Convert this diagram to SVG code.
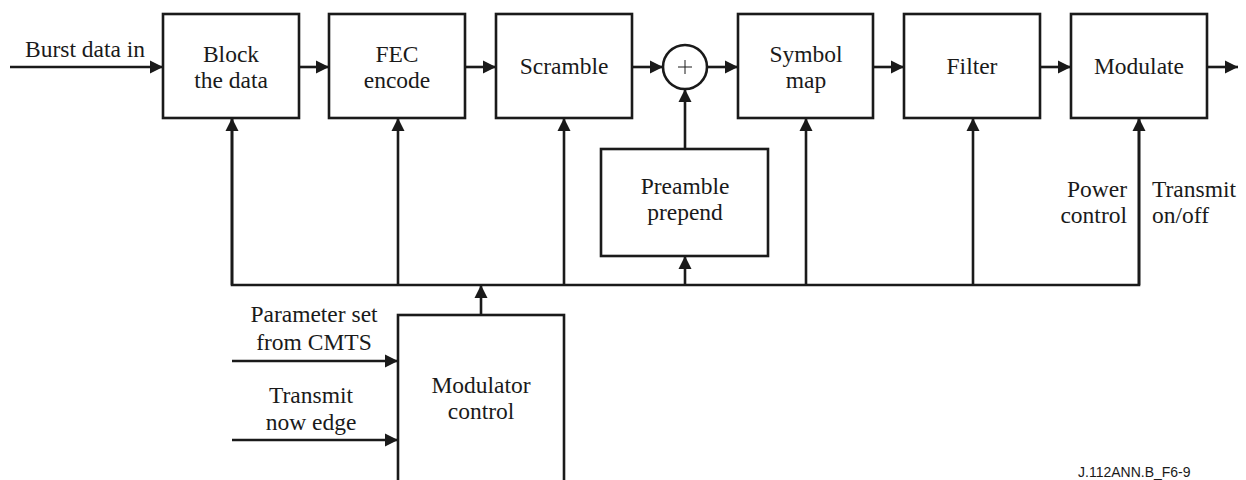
<svg xmlns="http://www.w3.org/2000/svg" width="1246" height="480" viewBox="0 0 1246 480">
<style>
.box{fill:#fff;stroke:#1a1a1a;stroke-width:2.6}
.ln{fill:none;stroke:#1a1a1a;stroke-width:2.6}
.t{font-size:23.5px;fill:#1a1a1a}
.m{text-anchor:middle}
.r{text-anchor:end}
.f{font-size:14px;fill:#1a1a1a}
</style>
<defs>
<marker id="ah" markerUnits="userSpaceOnUse" markerWidth="14" markerHeight="14" viewBox="0 0 14 14" refX="13" refY="7" orient="auto">
<path d="M0,0.5 L13,7 L0,13.5 Z" fill="#1a1a1a"/>
</marker>
</defs>
<g id="connectors">
<line class="ln" x1="10" y1="67" x2="163" y2="67" marker-end="url(#ah)"/>
<line class="ln" x1="299" y1="67" x2="329" y2="67" marker-end="url(#ah)"/>
<line class="ln" x1="465" y1="67" x2="496" y2="67" marker-end="url(#ah)"/>
<line class="ln" x1="632" y1="67" x2="663" y2="67" marker-end="url(#ah)"/>
<line class="ln" x1="707" y1="67" x2="738" y2="67" marker-end="url(#ah)"/>
<line class="ln" x1="873" y1="67" x2="904" y2="67" marker-end="url(#ah)"/>
<line class="ln" x1="1040" y1="67" x2="1071" y2="67" marker-end="url(#ah)"/>
<line class="ln" x1="1207" y1="67" x2="1238" y2="67" marker-end="url(#ah)"/>
<line class="ln" x1="685" y1="149" x2="685" y2="89" marker-end="url(#ah)"/>
<polyline class="ln" points="232,118 232,285 1139,285 1139,118"/>
<line class="ln" x1="232" y1="285" x2="232" y2="118" marker-end="url(#ah)"/>
<line class="ln" x1="398" y1="285" x2="398" y2="118" marker-end="url(#ah)"/>
<line class="ln" x1="564" y1="285" x2="564" y2="118" marker-end="url(#ah)"/>
<line class="ln" x1="806" y1="285" x2="806" y2="118" marker-end="url(#ah)"/>
<line class="ln" x1="973" y1="285" x2="973" y2="118" marker-end="url(#ah)"/>
<line class="ln" x1="1139" y1="285" x2="1139" y2="118" marker-end="url(#ah)"/>
<line class="ln" x1="685" y1="285" x2="685" y2="256" marker-end="url(#ah)"/>
<line class="ln" x1="481" y1="315" x2="481" y2="285" marker-end="url(#ah)"/>
<line class="ln" x1="232" y1="361" x2="398" y2="361" marker-end="url(#ah)"/>
<line class="ln" x1="232" y1="440" x2="398" y2="440" marker-end="url(#ah)"/>
</g>
<g font-family="'Liberation Serif', 'Times New Roman', serif">
<g id="block">
<rect class="box" x="163" y="14" width="136" height="104"/>
<text class="t m" x="231" y="62">Block</text>
<text class="t m" x="231" y="88">the data</text>
</g>
<g id="fec">
<rect class="box" x="329" y="14" width="136" height="104"/>
<text class="t m" x="397" y="62">FEC</text>
<text class="t m" x="397" y="88">encode</text>
</g>
<g id="scramble">
<rect class="box" x="496" y="14" width="136" height="104"/>
<text class="t m" x="564" y="74">Scramble</text>
</g>
<g id="sum">
<circle class="box" cx="685" cy="67" r="22"/>
<line x1="678" y1="67" x2="692" y2="67" stroke="#1a1a1a" stroke-width="1"/>
<line x1="685" y1="60" x2="685" y2="74" stroke="#1a1a1a" stroke-width="1"/>
</g>
<g id="symbolmap">
<rect class="box" x="738" y="14" width="135" height="104"/>
<text class="t m" x="806" y="62">Symbol</text>
<text class="t m" x="806" y="88">map</text>
</g>
<g id="filter">
<rect class="box" x="904" y="14" width="136" height="104"/>
<text class="t m" x="972" y="74">Filter</text>
</g>
<g id="modulate">
<rect class="box" x="1071" y="14" width="136" height="104"/>
<text class="t m" x="1139" y="74">Modulate</text>
</g>
<g id="preamble">
<rect class="box" x="601" y="149" width="167" height="107"/>
<text class="t m" x="685" y="194">Preamble</text>
<text class="t m" x="685" y="220">prepend</text>
</g>
<g id="modctrl">
<rect class="box" x="398" y="315" width="166" height="180"/>
<text class="t m" x="481" y="393">Modulator</text>
<text class="t m" x="481" y="419">control</text>
</g>
<g id="labels">
<text class="t" x="25" y="57">Burst data in</text>
<text class="t r" x="1127" y="197">Power</text>
<text class="t r" x="1127" y="223">control</text>
<text class="t" x="1152" y="197">Transmit</text>
<text class="t" x="1152" y="223">on/off</text>
<text class="t m" x="314" y="322">Parameter set</text>
<text class="t m" x="314" y="350">from CMTS</text>
<text class="t m" x="311" y="403">Transmit</text>
<text class="t m" x="311" y="430">now edge</text>
<text class="f" x="1078" y="477" font-family="'Liberation Sans', Arial, sans-serif">J.112ANN.B_F6-9</text>
</g>
</g>
</svg>
